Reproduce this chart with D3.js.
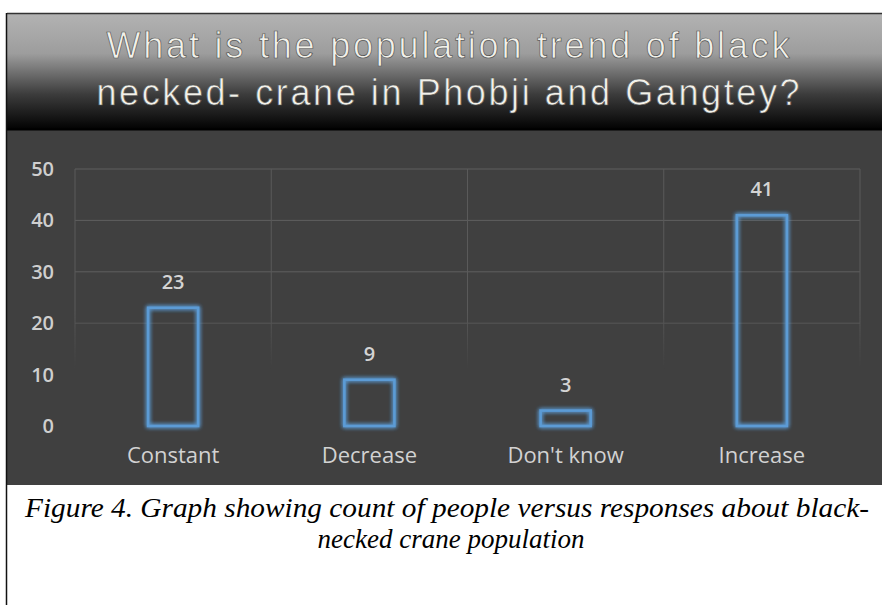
<!DOCTYPE html>
<html>
<head>
<meta charset="utf-8">
<script src="https://cdn.jsdelivr.net/npm/d3@7"></script>
<style>
  body { margin: 0; background: #ffffff; }
  svg { display: block; }
</style>
</head>
<body>
<div id="chart"></div>
<script>
// data
const categories = ["Constant", "Decrease", "Don't know", "Increase"];
const counts = [23, 9, 3, 41];
const yTicks = [0, 10, 20, 30, 40, 50];
const titleLines = ["What is the population trend of black", "necked- crane in Phobji and Gangtey?"];
const captionLines = ["Figure 4. Graph showing count of people versus responses about black-", "necked crane population"];

const W = 882, H = 605;
const svg = d3.select("#chart").append("svg")
    .attr("width", W)
    .attr("height", H);

const defs = svg.append("defs");

// title band gradient (grey to black)
let tg = defs.append("linearGradient")
    .attr("id", "titleGrad")
    .attr("x1", 0).attr("y1", 0).attr("x2", 0).attr("y2", 1);
tg.append("stop").attr("offset", "0%").attr("stop-color", "#b3b3b3");
tg.append("stop").attr("offset", "35%").attr("stop-color", "#9d9d9d");
tg.append("stop").attr("offset", "70%").attr("stop-color", "#3c3c3c");
tg.append("stop").attr("offset", "100%").attr("stop-color", "#020202");

// glow for the outlined bars
let glow = defs.append("filter")
    .attr("id", "glow")
    .attr("x", "-50%").attr("y", "-50%").attr("width", "200%").attr("height", "200%");
glow.append("feGaussianBlur")
    .attr("in", "SourceGraphic")
    .attr("stdDeviation", 2.2)
    .attr("result", "blur");
let merge = glow.append("feMerge");
merge.append("feMergeNode").attr("in", "blur");
merge.append("feMergeNode").attr("in", "blur");
merge.append("feMergeNode").attr("in", "SourceGraphic");

// frame
svg.append("rect")
    .attr("x", 7).attr("y", 13)
    .attr("width", W - 7).attr("height", 472)
    .attr("fill", "#404040");

svg.append("rect")
    .attr("x", 7).attr("y", 13)
    .attr("width", W - 7).attr("height", 116)
    .attr("fill", "url(#titleGrad)");

svg.append("line")
    .attr("x1", 7).attr("x2", W)
    .attr("y1", 129.5).attr("y2", 129.5)
    .attr("stroke", "#000").attr("stroke-width", 2);

svg.append("line")
    .attr("x1", 7).attr("x2", W)
    .attr("y1", 13.5).attr("y2", 13.5)
    .attr("stroke", "#333").attr("stroke-width", 1.5);

// left border runs all the way down
svg.append("line")
    .attr("x1", 6.5).attr("x2", 6.5)
    .attr("y1", 13).attr("y2", H)
    .attr("stroke", "#111").attr("stroke-width", 1.5);

// title
svg.append("g")
    .selectAll("text")
    .data(titleLines)
    .join("text")
    .attr("x", 448)
    .attr("y", (d, i) => 58 + i * 47)
    .attr("text-anchor", "middle")
    .attr("textLength", (d, i) => i === 0 ? 683 : 703)
    .attr("lengthAdjust", "spacing")
    .style("font-family", "'Liberation Sans', Arial, sans-serif")
    .style("font-size", "36px")
    .attr("fill", "#f2f1ea")
    .attr("stroke", "#555")
    .attr("stroke-width", 0.7)
    .text(d => d);

// scales
const plotLeft = 75, plotRight = 860;
const y = d3.scaleLinear().domain([0, 50]).range([426, 169]);
const xGrid = d3.scaleBand().domain(categories).range([plotLeft, plotRight]).padding(0);
const x = d3.scaleBand().domain(categories).range([plotLeft, plotRight])
    .paddingInner(0.745).paddingOuter(0.3725);

// gridlines fade out towards the bottom
let mg = defs.append("linearGradient")
    .attr("id", "fadeGrad")
    .attr("gradientUnits", "userSpaceOnUse")
    .attr("x1", 0).attr("y1", y(50)).attr("x2", 0).attr("y2", y(0));
mg.append("stop").attr("offset", "0%").attr("stop-color", "#fff");
mg.append("stop").attr("offset", "55%").attr("stop-color", "#fff");
mg.append("stop").attr("offset", "78%").attr("stop-color", "#000");
defs.append("mask").attr("id", "gridMask")
    .append("rect")
    .attr("x", 0).attr("y", 0).attr("width", W).attr("height", H)
    .attr("fill", "url(#fadeGrad)");

const grid = svg.append("g").attr("mask", "url(#gridMask)");
grid.selectAll(".hgrid")
    .data(yTicks)
    .join("line")
    .attr("class", "hgrid")
    .attr("x1", plotLeft).attr("x2", plotRight)
    .attr("y1", d => y(d)).attr("y2", d => y(d))
    .attr("stroke", "#5e5e5e").attr("stroke-width", 1);
grid.selectAll(".vgrid")
    .data(categories.map(c => xGrid(c)).concat([plotRight]))
    .join("line")
    .attr("class", "vgrid")
    .attr("x1", d => d).attr("x2", d => d)
    .attr("y1", y(50)).attr("y2", y(0))
    .attr("stroke", "#5a5a5a").attr("stroke-width", 1);

// y axis (labels only)
const yAxis = svg.append("g")
    .attr("transform", "translate(54,0)")
    .call(d3.axisLeft(y).tickValues(yTicks).tickSize(0).tickPadding(0));
yAxis.select(".domain").remove();
yAxis.selectAll("text")
    .style("font-family", "'Open Sans', sans-serif")
    .style("font-size", "20px")
    .style("font-weight", "600")
    .attr("fill", "#cfcfcf");

// x axis (labels only)
const xAxis = svg.append("g")
    .attr("transform", "translate(0,447)")
    .call(d3.axisBottom(xGrid).tickSize(0).tickPadding(0));
xAxis.select(".domain").remove();
xAxis.selectAll("text")
    .attr("dy", "0.73em")
    .style("font-family", "'Open Sans', sans-serif")
    .style("font-size", "22px")
    .attr("fill", "#d2d2d2");

// outlined bars with a blue glow
const bars = categories.map((c, i) => ({cat: c, val: counts[i]}));
svg.append("g")
    .selectAll("rect")
    .data(bars)
    .join("rect")
    .attr("x", d => x(d.cat))
    .attr("y", d => y(d.val))
    .attr("width", x.bandwidth())
    .attr("height", d => y(0) - y(d.val))
    .attr("fill", "none")
    .attr("stroke", "#5b9bd5")
    .attr("stroke-width", 2.6)
    .attr("filter", "url(#glow)");

// value labels
svg.append("g")
    .selectAll("text")
    .data(bars)
    .join("text")
    .attr("x", d => x(d.cat) + x.bandwidth() / 2)
    .attr("y", d => y(d.val) - 19)
    .attr("text-anchor", "middle")
    .style("font-family", "'Open Sans', sans-serif")
    .style("font-size", "20px")
    .style("font-weight", "600")
    .attr("fill", "#d4d4d4")
    .text(d => d.val);

// caption below the chart
svg.append("g")
    .selectAll("text")
    .data(captionLines)
    .join("text")
    .attr("x", (d, i) => i === 0 ? 447 : 451)
    .attr("y", (d, i) => 517 + i * 31)
    .attr("text-anchor", "middle")
    .attr("textLength", (d, i) => i === 0 ? 844 : 267)
    .attr("lengthAdjust", "spacingAndGlyphs")
    .style("font-family", "'Liberation Serif', 'Times New Roman', serif")
    .style("font-style", "italic")
    .style("font-size", "27px")
    .attr("fill", "#000")
    .text(d => d);
</script>
</body>
</html>
